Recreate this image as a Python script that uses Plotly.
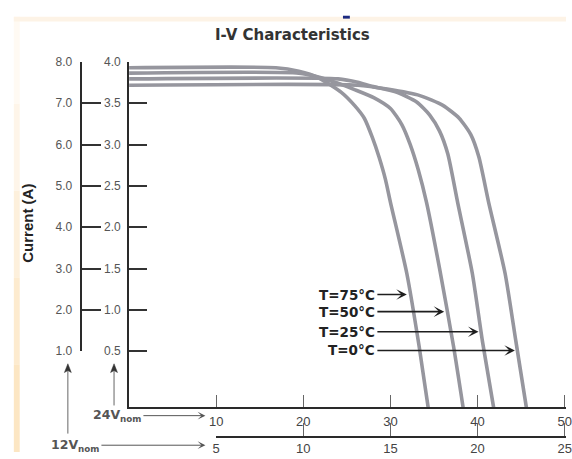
import plotly.graph_objects as go

# ---------------- data ----------------
temps = ["T=75°C", "T=50°C", "T=25°C", "T=0°C"]

voltage_75 = [0, 16.85, 19.48, 21.73, 24.36, 25.87, 27.0, 27.93, 28.69, 29.43, 30.0, 31.88, 33.29, 34.33]
current_75 = [3.93, 3.93, 3.887, 3.809, 3.633, 3.475, 3.319, 3.084, 2.849, 2.576, 2.301, 1.44, 0.559, -0.181]

voltage_50 = [0, 19.48, 21.73, 23.99, 25.87, 28.13, 30.0, 31.32, 32.25, 33.2, 34.14, 35.64, 37.24, 38.34]
current_50 = [3.865, 3.865, 3.818, 3.742, 3.666, 3.566, 3.437, 3.24, 3.006, 2.693, 2.301, 1.499, 0.559, -0.181]

voltage_25 = [0, 23.99, 26.24, 27.74, 30.75, 33.01, 34.51, 35.64, 36.58, 37.71, 39.4, 40.56, 41.84]
current_25 = [3.795, 3.795, 3.754, 3.71, 3.633, 3.515, 3.358, 3.163, 2.888, 2.301, 1.44, 0.618, -0.181]

voltage_0 = [0, 26.24, 29.63, 33.38, 36.02, 37.89, 39.21, 40.15, 41.27, 43.16, 44.4, 45.6]
current_0 = [3.719, 3.719, 3.672, 3.593, 3.475, 3.319, 3.123, 2.849, 2.301, 1.44, 0.618, -0.181]

# label arrows: tip voltage / current on each curve
label_tip_v = [31.88, 36.17, 40.11, 44.28]
label_tip_i = [1.185, 0.978, 0.735, 0.508]
label_tail_v = 28.5

# axes ticks
v24_ticks = [10, 20, 30, 40, 50]
v12_ticks = [5, 10, 15, 20, 25]
i24_ticks = [0.5, 1.0, 1.5, 2.0, 2.5, 3.0, 3.5, 4.0]
i12_ticks = [1, 2, 3, 4, 5, 6, 7, 8]

# ---------------- layout helpers ----------------
W, H = 572, 459
def fx(px):
    return px / W
def fy(py):
    return 1 - py / H

curve_color = "#96969e"
fig = go.Figure()
for v, i in [(voltage_75, current_75), (voltage_50, current_50),
             (voltage_25, current_25), (voltage_0, current_0)]:
    fig.add_trace(go.Scatter(x=v, y=i, mode="lines",
                             line=dict(color=curve_color, width=3.6, shape="spline", smoothing=0.6),
                             hoverinfo="skip", showlegend=False))

# carriers for the extra axes
fig.add_trace(go.Scatter(x=[], y=[], xaxis="x", yaxis="y2", showlegend=False))
fig.add_trace(go.Scatter(x=[], y=[], xaxis="x2", yaxis="y", showlegend=False))

tickfont = dict(family="Liberation Sans, Arial, sans-serif", size=12, color="#555")
xtickfont = dict(family="Liberation Sans, Arial, sans-serif", size=13, color="#444")
axis_line = "#2a2a2a"

fig.update_layout(
    width=W, height=H,
    margin=dict(l=0, r=0, t=0, b=0),
    paper_bgcolor="white", plot_bgcolor="rgba(0,0,0,0)",
    showlegend=False,
    xaxis=dict(domain=[fx(127.3), 1], range=[0, (W - 127.3) / 8.8675], anchor="y",
               showline=True, linecolor=axis_line, linewidth=2,
               ticks="inside", ticklen=12, tickwidth=1.2, tickcolor="#666",
               tickvals=v24_ticks, ticktext=[str(t) for t in v24_ticks],
               tickfont=xtickfont, ticklabelstandoff=1, ticklabeloverflow="allow",
               showgrid=False, zeroline=False),
    yaxis=dict(domain=[fy(413), fy(56.7)], range=[-0.181, 4.0], anchor="x",
               showline=True, linecolor=axis_line, linewidth=2,
               ticks="inside", ticklen=18, tickwidth=1.5, tickcolor="#333",
               tickvals=i24_ticks, ticktext=["%.1f" % t for t in i24_ticks],
               tickfont=tickfont, ticklabelstandoff=4, showgrid=False, zeroline=False),
    yaxis2=dict(domain=[fy(355), fy(56.7)], range=[1, 8], anchor="free", position=fx(78),
                side="left",
                showline=True, linecolor=axis_line, linewidth=2,
                ticks="inside", ticklen=19, tickwidth=1.5, tickcolor="#333",
                tickvals=i12_ticks, ticktext=["%.1f" % t for t in i12_ticks],
                tickfont=tickfont, ticklabelstandoff=5, showgrid=False, zeroline=False),
    xaxis2=dict(domain=[fx(216), 1], range=[5, 5 + (W - 216) / (2 * 8.8675)],
                anchor="free", position=fy(443.3), side="bottom",
                showline=True, linecolor=axis_line, linewidth=2,
                ticks="inside", ticklen=13, tickwidth=1.2, tickcolor="#666",
                tickvals=v12_ticks, ticktext=[str(t) for t in v12_ticks],
                tickfont=xtickfont, ticklabelstandoff=0, ticklabeloverflow="allow",
                showgrid=False, zeroline=False),
)

ann = []
# title
ann.append(dict(text="I-V Characteristics", x=fx(294), y=fy(29), xref="paper", yref="paper",
                showarrow=False, xanchor="center", yanchor="middle",
                font=dict(family="DejaVu Sans, sans-serif", size=15, color="#333", weight="bold")))
# y title
ann.append(dict(text="Current (A)", x=fx(24), y=fy(223), xref="paper", yref="paper",
                showarrow=False, textangle=-90, xanchor="center", yanchor="middle",
                font=dict(family="Liberation Sans Narrow, Liberation Sans, Arial, sans-serif",
                          size=15, color="#222", weight="bold")))
# temperature labels with arrows
for t, tv, ti in zip(temps, label_tip_v, label_tip_i):
    ann.append(dict(text=t, x=tv, y=ti, xref="x", yref="y",
                    ax=label_tail_v, ay=ti, axref="x", ayref="y",
                    xanchor="right", yanchor="middle", showarrow=True,
                    arrowhead=3, arrowsize=1.1, arrowwidth=1.6, arrowcolor="#1e1e1e",
                    font=dict(family="DejaVu Sans, sans-serif", size=13.5, color="#222", weight="bold")))
# nominal voltage labels, each with its horizontal pointer arrow
nomfont = dict(family="DejaVu Sans, sans-serif", size=12.5, color="#555", weight="bold")
ann.append(dict(text="24V<sub>nom</sub>", x=fx(205), y=fy(421.5), xref="paper", yref="paper",
                ax=-62, ay=0, showarrow=True, arrowhead=3, arrowsize=1.3, arrowwidth=1,
                arrowcolor="#555", xanchor="right", yanchor="middle", font=nomfont))
ann.append(dict(text="12V<sub>nom</sub>", x=fx(205), y=fy(452), xref="paper", yref="paper",
                ax=-104, ay=0, showarrow=True, arrowhead=3, arrowsize=1.3, arrowwidth=1,
                arrowcolor="#555", xanchor="right", yanchor="middle", font=nomfont))
fig.update_layout(annotations=ann)

# slide frame tint (left + top band), small mark, vertical pointer arrows
shapes = []
left_cols = ["#fffaf3", "#fef5e9", "#fdf0dc", "#fdebcf", "#fce6c3"]
n = len(left_cols)
for k, c in enumerate(left_cols):
    y_top = 10 + k * (H - 10) / n
    y_bot = 10 + (k + 1) * (H - 10) / n
    shapes.append(dict(type="rect", xref="paper", yref="paper", x0=fx(10), x1=fx(16),
                       y0=fy(y_bot), y1=fy(y_top), fillcolor=c, line=dict(width=0), layer="below"))
shapes.append(dict(type="rect", xref="paper", yref="paper", x0=fx(10), x1=1,
                   y0=fy(15), y1=fy(10), fillcolor="#fdf3e6", line=dict(width=0), layer="below"))
shapes.append(dict(type="rect", xref="paper", yref="paper", x0=fx(345), x1=fx(352),
                   y0=fy(12), y1=fy(9), fillcolor="#1c2a80", line=dict(width=0)))
for (xp, y_tip, y_tail) in [(65, 368, 440), (112, 368, 411)]:
    shapes.append(dict(type="line", xref="paper", yref="paper", x0=fx(xp), x1=fx(xp),
                       y0=fy(y_tail), y1=fy(y_tip + 6), line=dict(color="#666", width=1)))
    path = "M %f,%f L %f,%f L %f,%f L %f,%f Z" % (
        fx(xp), fy(y_tip), fx(xp - 3.5), fy(y_tip + 9), fx(xp), fy(y_tip + 7),
        fx(xp + 3.5), fy(y_tip + 9))
    shapes.append(dict(type="path", xref="paper", yref="paper", path=path,
                       fillcolor="#333", line=dict(color="#333", width=0.5)))
fig.update_layout(shapes=shapes)

fig.write_html(
    "out.html",
    config={"displayModeBar": False},
    post_script=("document.documentElement.style.margin='0';"
                 "document.documentElement.style.overflow='hidden';"
                 "document.body.style.margin='0';document.body.style.overflow='hidden';"
                 "var gd=document.getElementById('{plot_id}');"
                 "gd.style.position='fixed';gd.style.top='0px';gd.style.left='0px';"),
)
